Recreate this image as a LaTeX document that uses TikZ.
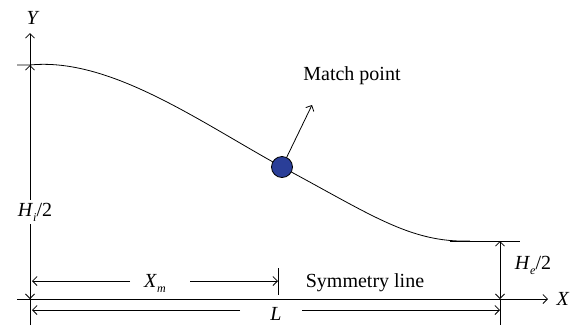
\documentclass[tikz,border=0pt]{standalone}
\usepackage{fontspec}
\setmainfont{Liberation Serif}
\usetikzlibrary{arrows.meta}
\definecolor{mpblue}{RGB}{42,62,152}
\newcommand{\lowsub}[1]{\raisebox{-0.55ex}{\fontsize{12}{12}\selectfont\textit{#1}}}
\begin{document}
\begin{tikzpicture}[x=1pt,y=-1pt,
  ln/.style={line width=0.8pt},
  tip/.style={ln,-{Straight Barb[length=4.5pt,width=9pt]}},
  dtip/.style={ln,{Straight Barb[length=4.5pt,width=9pt]}-{Straight Barb[length=4.5pt,width=9pt]}},
  lab/.style={font=\fontsize{20}{23}\selectfont, inner sep=1pt}]
\useasboundingbox (0,0) rectangle (571,325);
% axes
\coordinate (yb) at (30,325);
\coordinate (yt) at (30,33);
\coordinate (xl) at (17,299);
\coordinate (xr) at (548,299);
\draw[tip] (yb) -- (yt);
\draw[tip] (xl) -- (xr);
\node[lab] (ylab) at (33,18) {\textit{Y}};
\node[lab] (xlab) at (563,299) {\textit{X}};
% profile
\coordinate (topl) at (17,65);
\coordinate (top) at (30,65);
\coordinate (mpc) at (282,167);
\coordinate (fl) at (470,241);
\coordinate (fa) at (450,241);
\coordinate (fb) at (520,241);
\draw[ln] (topl) -- (top) .. controls (110,57) and (200,122) .. (mpc)
  .. controls (370,214) and (410,243) .. (fl);
\draw[ln] (fa) -- (fb);
% Hi/2
\coordinate (hib) at (30,299);
\draw[dtip] (hib) -- (top);
\node[lab, fill=white, inner sep=3pt] (hil) at (35,212) {\textit{H}\lowsub{i}/2};
% He/2
\coordinate (het) at (500,241);
\coordinate (heb) at (500,299);
\coordinate (hebot) at (500,325);
\draw[ln] (heb) -- (hebot);
\draw[dtip] (heb) -- (het);
\node[lab] (hel) at (533,265) {\textit{H}\lowsub{e}/2};
% Xm
\coordinate (xma) at (32,281);
\coordinate (xmb) at (278,281);
\coordinate (xmg1) at (130,281);
\coordinate (xmg2) at (190,281);
\coordinate (xmt1) at (278,268);
\coordinate (xmt2) at (278,295);
\draw[tip] (xmg1) -- (xma);
\draw[tip] (xmg2) -- (xmb);
\draw[ln] (xmt1) -- (xmt2);
\node[lab] (xml) at (155,283) {\textit{X}\lowsub{m}};
% L
\coordinate (la) at (32,310);
\coordinate (lb) at (500,310);
\coordinate (lg1) at (240,310);
\coordinate (lg2) at (302,310);
\draw[tip] (lg1) -- (la);
\draw[tip] (lg2) -- (lb);
\node[lab] (ll) at (276,314) {\textit{L}};
% symmetry
\node[lab] (sym) at (365,283) {Symmetry line};
% match point
\node[circle, draw=black, line width=0.8pt, fill=mpblue, minimum size=21pt, inner sep=0pt] (mp) at (mpc) {};
\coordinate (mpa) at (312,105);
\draw[tip] (mp) -- (mpa);
\node[lab] (mpl) at (352,76) {Match point};
\end{tikzpicture}
\end{document}
